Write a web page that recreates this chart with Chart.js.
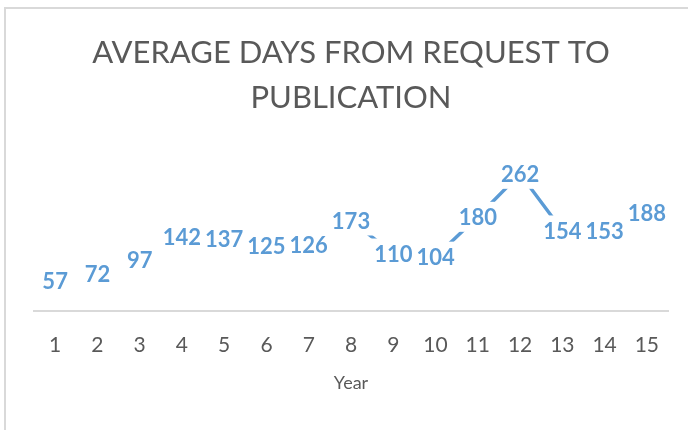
<!DOCTYPE html>
<html>
<head>
<meta charset="utf-8">
<title>Average days from request to publication</title>
<script src="https://cdn.jsdelivr.net/npm/chart.js@4.4.1/dist/chart.umd.min.js"></script>
<style>
  html, body { margin: 0; padding: 0; background: #ffffff; }
  #wrap { position: relative; width: 688px; height: 430px; }
</style>
</head>
<body>
<div id="wrap"><canvas id="days-chart"></canvas></div>
<script>
const years = ["1", "2", "3", "4", "5", "6", "7", "8", "9", "10", "11", "12", "13", "14", "15"];
const avgDays = [57, 72, 97, 142, 137, 125, 126, 173, 110, 104, 180, 262, 154, 153, 188];
const chartTitle = ["AVERAGE DAYS FROM REQUEST TO", "PUBLICATION"];
const xAxisTitle = "Year";

const lineColor = "#5B9BD5";
const textColor = "#595959";

// light frame around the chart, like the exported office chart
const framePlugin = {
  id: "frame",
  beforeDraw(chart) {
    const ctx = chart.ctx;
    ctx.save();
    ctx.strokeStyle = "#d9d9d9";
    ctx.lineWidth = 2;
    ctx.strokeRect(5, 8, chart.width + 20, chart.height + 20);
    ctx.restore();
  },
};

// value labels centred on the points, with a white box hiding the line under them
const valueLabelPlugin = {
  id: "valueLabels",
  afterDatasetsDraw(chart) {
    const ctx = chart.ctx;
    const meta = chart.getDatasetMeta(0);
    const values = chart.data.datasets[0].data;
    ctx.save();
    ctx.font = "bold 22px Lato";
    ctx.textAlign = "center";
    ctx.textBaseline = "middle";
    // boxes first so a box never covers the neighbour's text
    ctx.fillStyle = "#ffffff";
    meta.data.forEach((pt, i) => {
      const w = ctx.measureText(String(values[i])).width;
      ctx.fillRect(pt.x - w / 2 - 10, pt.y - 15, w + 20, 30);
    });
    ctx.fillStyle = lineColor;
    meta.data.forEach((pt, i) => {
      ctx.fillText(String(values[i]), pt.x, pt.y + 1);
    });
    ctx.restore();
  },
};

function initChart() {
  const ctx = document.getElementById("days-chart").getContext("2d");
  new Chart(ctx, {
    type: "line",
    data: {
      labels: years,
      datasets: [
        {
          label: "Average days",
          data: avgDays,
          borderColor: lineColor,
          backgroundColor: lineColor,
          borderWidth: 3.5,
          borderCapStyle: "round",
          tension: 0,
          pointRadius: 0,
          fill: false,
        },
      ],
    },
    options: {
      responsive: true,
      maintainAspectRatio: false,
      animation: false,
      layout: {
        padding: { left: 34, right: 20, top: 0, bottom: 36 },
      },
      scales: {
        x: {
          offset: true,
          grid: { display: false, drawTicks: false },
          border: { display: true, color: "#d9d9d9", width: 2 },
          ticks: {
            color: textColor,
            padding: 21,
            maxRotation: 0,
            autoSkip: false,
            font: { family: "Lato", size: 21 },
          },
          title: {
            display: true,
            text: xAxisTitle,
            color: textColor,
            padding: { top: -6, bottom: 0 },
            font: { family: "Lato", size: 18 },
          },
        },
        y: {
          display: false,
          min: 0,
          max: 300,
        },
      },
      plugins: {
        legend: { display: false },
        tooltip: { enabled: false },
        title: {
          display: true,
          text: chartTitle,
          color: textColor,
          font: { family: "Lato", size: 31, weight: "normal", lineHeight: 1.45 },
          padding: { top: 31, bottom: 33 },
        },
      },
    },
    plugins: [framePlugin, valueLabelPlugin],
  });
}

initChart();
</script>
</body>
</html>
